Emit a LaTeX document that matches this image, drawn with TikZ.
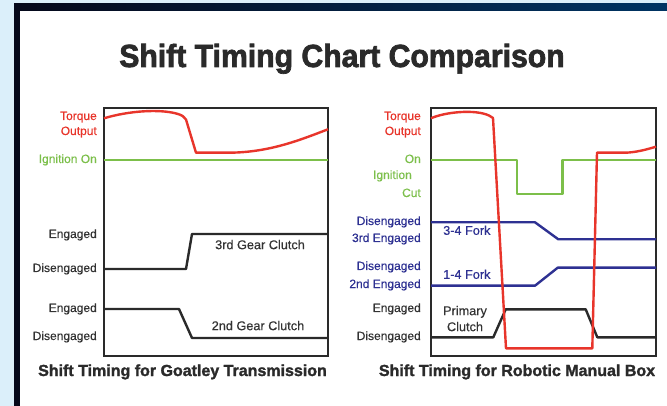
\documentclass[tikz,border=0pt]{standalone}
\usepackage{fontspec}
\setmainfont{Liberation Sans}
\newfontfamily\titlefont{Liberation Sans}[FakeStretch=0.943,FakeBold=2.2]
\newfontfamily\captfont{Liberation Sans}[FakeBold=1.6]
\newfontfamily\labfont{Liberation Sans}[FakeBold=0.4]
\definecolor{skyback}{HTML}{DBEFFA}
\definecolor{navyL}{HTML}{05081A}
\definecolor{navyR}{HTML}{003463}
\definecolor{torquered}{HTML}{E8352B}
\definecolor{igngreen}{HTML}{7CBF4A}
\definecolor{forkblue}{HTML}{2E3192}
\definecolor{clutchblack}{HTML}{2A2A2A}
\definecolor{labgray}{HTML}{333333}
\begin{document}
\begin{tikzpicture}[x=1pt,y=-1pt,
  wave/.style={line width=2.4pt,line join=round},
  chartbox/.style={draw=clutchblack,line width=2.2pt},
  lab/.style={font=\labfont\fontsize{12}{12}\selectfont,anchor=east,inner sep=0pt,
    text height=8.6pt,text depth=2.6pt},
  inlab/.style={font=\labfont\fontsize{12.7}{12.7}\selectfont,inner sep=0pt,
    text height=9pt,text depth=2.7pt,text=labgray},
  capt/.style={font=\captfont\bfseries\fontsize{16}{16}\selectfont,inner sep=0pt,
    anchor=base,text=clutchblack}]
\useasboundingbox (0,0) rectangle (667,406);
% page frame
\fill[skyback] (0,0) rectangle (667,406);
\fill[white] (20,11) rectangle (667,406);
\shade[left color=navyL,right color=navyR] (14,4) rectangle (667,11);
\fill[navyL] (14,4) rectangle (20,406);

% title
\node[font=\titlefont\bfseries\fontsize{32}{32}\selectfont,inner sep=0pt,anchor=base,
  text=clutchblack] (title) at (342,67) {Shift Timing Chart Comparison};

% ---------- Goatley transmission ----------
\draw[chartbox] (104,108) rectangle (328,356);
\node[lab,text=torquered] (lt1) at (97,117) {Torque};
\node[lab,text=torquered] (lt2) at (97,132) {Output};
\node[lab,text=igngreen] (lig) at (97,160) {Ignition On};
\node[lab,text=labgray] (le3) at (97,235) {Engaged};
\node[lab,text=labgray] (ld3) at (97,269) {Disengaged};
\node[lab,text=labgray] (le2) at (97,309) {Engaged};
\node[lab,text=labgray] (ld2) at (97,337) {Disengaged};

\draw[wave,igngreen] (104,160) -- (328,160);
\draw[wave,clutchblack] (104,269) -- (186,269) -- (192,234) -- (328,234);
\draw[wave,clutchblack] (104,309) -- (179,309) -- (192,338) -- (328,338);
\draw[wave,torquered] (104,118.3) .. controls (128,111) and (160,108.5) .. (178,114)
  .. controls (182,115.3) and (184,116.5) .. (186,119.5) -- (196,152.7) -- (230,152.7)
  .. controls (270,152.2) and (300,140) .. (328,129.3);
\node[inlab] (l3g) at (260,246) {3rd Gear Clutch};
\node[inlab] (l2g) at (258,327) {2nd Gear Clutch};
\node[capt] (cl) at (182.5,376) {Shift Timing for Goatley Transmission};

% ---------- robotic manual box ----------
\draw[chartbox] (431,108) rectangle (656,356);
\node[lab,text=torquered] (rt1) at (421,117) {Torque};
\node[lab,text=torquered] (rt2) at (421,132) {Output};
\node[lab,text=igngreen] (ron) at (421,160) {On};
\node[lab,text=igngreen] (rig) at (412,176) {Ignition};
\node[lab,text=igngreen] (rcut) at (421,194) {Cut};
\node[lab,text=forkblue] (rd34) at (421,222) {Disengaged};
\node[lab,text=forkblue] (re3) at (421,239) {3rd Engaged};
\node[lab,text=forkblue] (rd14) at (421,267) {Disengaged};
\node[lab,text=forkblue] (re2) at (421,285) {2nd Engaged};
\node[lab,text=labgray] (rpe) at (421,309) {Engaged};
\node[lab,text=labgray] (rpd) at (421,337) {Disengaged};

\draw[wave,igngreen] (431,160) -- (516.7,160) -- (516.7,194.3) -- (562.3,194.3)
  -- (562.3,160) -- (656,160);
\draw[wave,forkblue] (431,222.3) -- (535,222.3) -- (558.3,239.3) -- (656,239.3);
\draw[wave,forkblue] (431,285.7) -- (535,285.7) -- (557.7,267.7) -- (656,267.7);
\draw[wave,clutchblack] (431,337.3) -- (493.3,337.3) -- (505.7,309.3) -- (585.7,309.3)
  -- (597.3,337.3) -- (656,337.3);
\draw[wave,torquered] (431,118.3) .. controls (445,112) and (475,109) .. (489,115.5)
  -- (493,118) -- (506,348.3) -- (592.3,348.3) -- (597,152.7) -- (625,152.7)
  .. controls (635,152.5) and (645,150) .. (656,146.7);
\node[inlab,anchor=west,text=forkblue] (f34) at (443,231.7) {3-4 Fork};
\node[inlab,anchor=west,text=forkblue] (f14) at (443,275.7) {1-4 Fork};
\node[inlab] (pc1) at (465,312) {Primary};
\node[inlab] (pc2) at (465,328) {Clutch};
\node[capt] (cr) at (517,376) {Shift Timing for Robotic Manual Box};
\end{tikzpicture}
\end{document}
